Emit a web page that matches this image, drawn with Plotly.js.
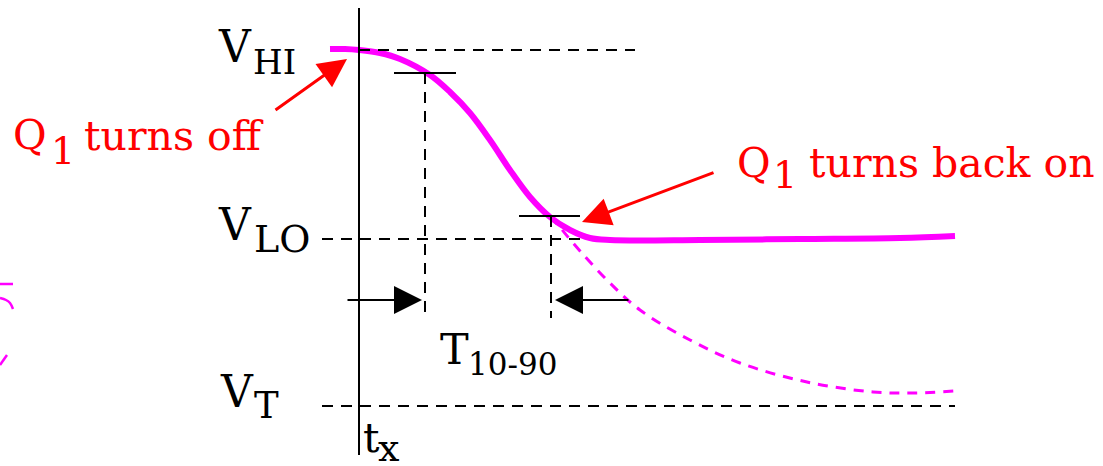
<!DOCTYPE html>
<html>
<head>
<meta charset="utf-8">
<script src="https://cdn.plot.ly/plotly-3.0.1.min.js"></script>
<style>html,body{margin:0;padding:0;background:#fff;}#chart{width:1103px;height:466px;}</style>
</head>
<body>
<div id="chart"></div>
<script>
// Units: time measured from t_x (0); voltage measured from V_T (0)
const vHI = 3.56, vLO = 1.67, vT = 0;
const v90 = 3.33, v10 = 1.90;
const t90 = 0.66, t10 = 1.92;
const arrowLevel = 1.06;

// Actual output waveform (Q1 turns back on)
const solidT = [-0.29, -0.14, 0, 0.21, 0.41, 0.71, 0.91, 1.11, 1.31, 1.51, 1.71, 1.91, 2.11, 2.31, 2.51, 3.41, 4.41, 5.41, 5.96];
const solidV = [3.57, 3.57, 3.56, 3.53, 3.47, 3.31, 3.14, 2.93, 2.66, 2.36, 2.09, 1.89, 1.76, 1.68, 1.66, 1.66, 1.67, 1.68, 1.70];

// Waveform if Q1 stayed off
const dashT = [1.91, 1.99, 2.14, 2.48, 2.81, 3.31, 3.81, 4.48, 5.14, 5.54, 5.96];
const dashV = [1.89, 1.81, 1.63, 1.26, 0.96, 0.66, 0.43, 0.24, 0.14, 0.13, 0.15];

// Fragment of a neighbouring drawing cut at the left edge
const fragBarT = [-3.59, -3.46], fragBarV = [1.22, 1.22];
const fragArcT = [-3.59, -3.53, -3.49, -3.46], fragArcV = [1.08, 1.06, 1.03, 0.97];
const fragTickT = [-3.59, -3.52], fragTickV = [0.41, 0.51];

const magenta = '#ff00ff', red = '#ff0000';
const serif = 'DejaVu Serif';

const traces = [
  {x: dashT, y: dashV, mode: 'lines', line: {color: magenta, width: 3, dash: '10px,8px', shape: 'spline'}},
  {x: solidT, y: solidV, mode: 'lines', line: {color: magenta, width: 6, shape: 'spline'}},
  {x: fragBarT, y: fragBarV, mode: 'lines', line: {color: magenta, width: 2.5}},
  {x: fragArcT, y: fragArcV, mode: 'lines', line: {color: magenta, width: 2.5, shape: 'spline'}},
  {x: fragTickT, y: fragTickV, mode: 'lines', line: {color: magenta, width: 2.5}}
];

const blackDash = {color: 'black', width: 2, dash: '11px,8px'};
const shapes = [
  {type: 'line', x0: 0, x1: 0, y0: -0.49, y1: 3.98, line: {color: 'black', width: 2}},
  {type: 'line', x0: 0.0, x1: 2.76, y0: vHI, y1: vHI, line: blackDash},
  {type: 'line', x0: -0.37, x1: 2.26, y0: vLO, y1: vLO, line: blackDash},
  {type: 'line', x0: -0.37, x1: 5.96, y0: vT, y1: vT, line: blackDash},
  {type: 'line', x0: 0.35, x1: 0.97, y0: v90, y1: v90, line: {color: 'black', width: 2}},
  {type: 'line', x0: 1.60, x1: 2.21, y0: v10, y1: v10, line: {color: 'black', width: 2}},
  {type: 'line', x0: t90, x1: t90, y0: v90, y1: 0.88, line: blackDash},
  {type: 'line', x0: t10, x1: t10, y0: v10, y1: 0.88, line: blackDash}
];

function arrow(x, y, ax, ay, color, width, size) {
  return {x: x, y: y, ax: ax, ay: ay, xref: 'x', yref: 'y', axref: 'x', ayref: 'y',
    text: '', showarrow: true, arrowhead: 2, arrowsize: size, arrowwidth: width, arrowcolor: color};
}
function label(text, x, y, size, color) {
  return {x: x, y: y, xref: 'x', yref: 'y', text: text, showarrow: false,
    xanchor: 'left', yanchor: 'middle', font: {family: serif, size: size, color: color || 'black'}};
}

const annotations = [
  arrow(t90 - 0.03, arrowLevel, -0.13, arrowLevel, 'black', 2, 2.8),
  arrow(t10 + 0.04, arrowLevel, 2.71, arrowLevel, 'black', 2, 2.8),
  arrow(-0.12, 3.47, -0.85, 2.95, red, 3, 1.9),
  arrow(2.23, 1.84, 3.56, 2.34, red, 3, 1.9),
  label('V', -1.43, 3.595, 44), label('HI', -1.08, 3.44, 34),
  label('V', -1.43, 1.82, 44), label('LO', -1.07, 1.675, 38),
  label('V', -1.41, 0.15, 44), label('T', -1.07, 0.005, 37),
  label('T', 0.79, 0.57, 43), label('10-90', 1.07, 0.425, 31),
  label('t', 0.02, -0.32, 41), label('x', 0.17, -0.42, 38),
  label('Q', -3.48, 2.71, 41, red), label('1', -3.10, 2.55, 38, red), label('turns off', -2.77, 2.70, 41, red),
  label('Q', 3.76, 2.43, 41, red), label('1', 4.12, 2.31, 38, red), label('turns back on', 4.48, 2.43, 41, red)
];

const layout = {
  width: 1103, height: 466,
  margin: {l: 0, r: 0, t: 0, b: 0, pad: 0},
  paper_bgcolor: 'white', plot_bgcolor: 'white',
  showlegend: false,
  xaxis: {range: [-3.59, 7.44], visible: false, fixedrange: true},
  yaxis: {range: [-0.60, 4.06], visible: false, fixedrange: true},
  shapes: shapes,
  annotations: annotations
};

Plotly.newPlot('chart', traces, layout, {staticPlot: true, displayModeBar: false});
</script>
</body>
</html>
